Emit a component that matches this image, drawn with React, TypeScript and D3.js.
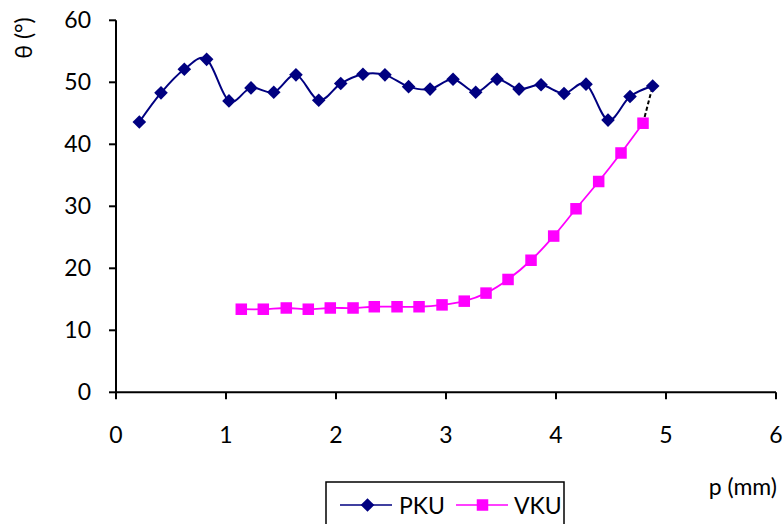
import React from "react";
import * as d3 from "d3";

const pkuX = [0.212, 0.409, 0.621, 0.824, 1.027, 1.227, 1.434, 1.636, 1.843, 2.043, 2.245, 2.445, 2.66, 2.855, 3.064, 3.27, 3.464, 3.664, 3.864, 4.073, 4.273, 4.473, 4.673, 4.879];
const pkuY = [43.6, 48.3, 52.1, 53.7, 47.0, 49.1, 48.4, 51.2, 47.1, 49.8, 51.3, 51.2, 49.3, 48.9, 50.5, 48.4, 50.5, 48.9, 49.6, 48.2, 49.7, 43.9, 47.7, 49.4];
const vkuX = [1.139, 1.339, 1.548, 1.748, 1.948, 2.155, 2.348, 2.555, 2.755, 2.964, 3.166, 3.364, 3.564, 3.773, 3.979, 4.182, 4.388, 4.591, 4.791];
const vkuY = [13.4, 13.4, 13.6, 13.4, 13.6, 13.6, 13.8, 13.8, 13.8, 14.1, 14.7, 16.0, 18.2, 21.3, 25.2, 29.6, 34.0, 38.6, 43.4];
const xTicks = [0, 1, 2, 3, 4, 5, 6];
const yTicks = [0, 10, 20, 30, 40, 50, 60];
const seriesNames = ["PKU", "VKU"];
const xLabel = "p (mm)";
const yLabel = "θ (°)";

const W = 784;
const H = 524;
const FONT = "Lato, 'Open Sans', sans-serif";
const FS = 23;
const NAVY = "#000080";
const MAG = "#FF00FF";

export default function App() {
  const x = d3.scaleLinear().domain([0, 6]).range([116, 776]);
  const y = d3.scaleLinear().domain([0, 60]).range([392.3, 20.3]);
  const line = d3
    .line<[number, number]>()
    .x((d) => x(d[0]))
    .y((d) => y(d[1]))
    .curve(d3.curveCardinal.tension(0));
  const pku: [number, number][] = pkuX.map((v, i) => [v, pkuY[i]]);
  const vku: [number, number][] = vkuX.map((v, i) => [v, vkuY[i]]);
  const lastP = pku[pku.length - 1];
  const lastV = vku[vku.length - 1];
  const dm = 6.8;
  const sq = 11.5;
  const diamond = (cx: number, cy: number) =>
    `M${cx},${cy - dm}L${cx + dm},${cy}L${cx},${cy + dm}L${cx - dm},${cy}Z`;

  return (
    <svg
      width={W}
      height={H}
      style={{ position: "absolute", left: 0, top: 0, background: "#fff" }}
      fontFamily={FONT}
    >
      <rect x={0} y={0} width={W} height={H} fill="#fff" />
      {/* axes */}
      <line x1={x(0)} x2={x(0)} y1={y(60)} y2={y(0)} stroke="#000" strokeWidth={2} />
      <line x1={x(0)} x2={x(6)} y1={y(0)} y2={y(0)} stroke="#000" strokeWidth={2} />
      {yTicks.map((t) => (
        <g key={"y" + t}>
          <line x1={x(0) - 7} x2={x(0)} y1={y(t)} y2={y(t)} stroke="#000" strokeWidth={2} />
          <text x={91} y={y(t)} dy="0.35em" textAnchor="end" fontSize={FS} fill="#000">
            {t}
          </text>
        </g>
      ))}
      {xTicks.map((t) => (
        <g key={"x" + t}>
          <line x1={x(t)} x2={x(t)} y1={y(0)} y2={y(0) + 7} stroke="#000" strokeWidth={2} />
          <text x={x(t)} y={443} textAnchor="middle" fontSize={FS} fill="#000">
            {t}
          </text>
        </g>
      ))}
      <text x={777} y={495} textAnchor="end" fontSize={FS} fill="#000">
        {xLabel}
      </text>
      <text
        transform={`translate(32,38) rotate(-90)`}
        textAnchor="middle"
        fontSize={FS}
        fill="#000"
      >
        {yLabel}
      </text>
      {/* series */}
      <path d={line(pku) || ""} fill="none" stroke={NAVY} strokeWidth={2} />
      <path d={line(vku) || ""} fill="none" stroke={MAG} strokeWidth={1.8} />
      <line
        x1={x(lastV[0])}
        y1={y(lastV[1])}
        x2={x(lastP[0])}
        y2={y(lastP[1])}
        stroke="#000"
        strokeWidth={2}
        strokeDasharray="4,2.5"
      />
      {pku.map((d, i) => (
        <path key={"p" + i} d={diamond(x(d[0]), y(d[1]))} fill={NAVY} />
      ))}
      {vku.map((d, i) => (
        <rect
          key={"v" + i}
          x={x(d[0]) - sq / 2}
          y={y(d[1]) - sq / 2}
          width={sq}
          height={sq}
          fill={MAG}
        />
      ))}
      {/* legend */}
      <rect x={326} y={482} width={238} height={60} fill="#fff" stroke="#000" strokeWidth={1.5} />
      <line x1={340} x2={392} y1={505} y2={505} stroke={NAVY} strokeWidth={1.6} />
      <path d={diamond(367.5, 505)} fill={NAVY} />
      <text x={399} y={514} fontSize={FS} fill="#000">
        {seriesNames[0]}
      </text>
      <line x1={456} x2={508} y1={505} y2={505} stroke={MAG} strokeWidth={1.6} />
      <rect x={482.5 - sq / 2} y={505 - sq / 2} width={sq} height={sq} fill={MAG} />
      <text x={514} y={514} fontSize={FS} fill="#000">
        {seriesNames[1]}
      </text>
    </svg>
  );
}
